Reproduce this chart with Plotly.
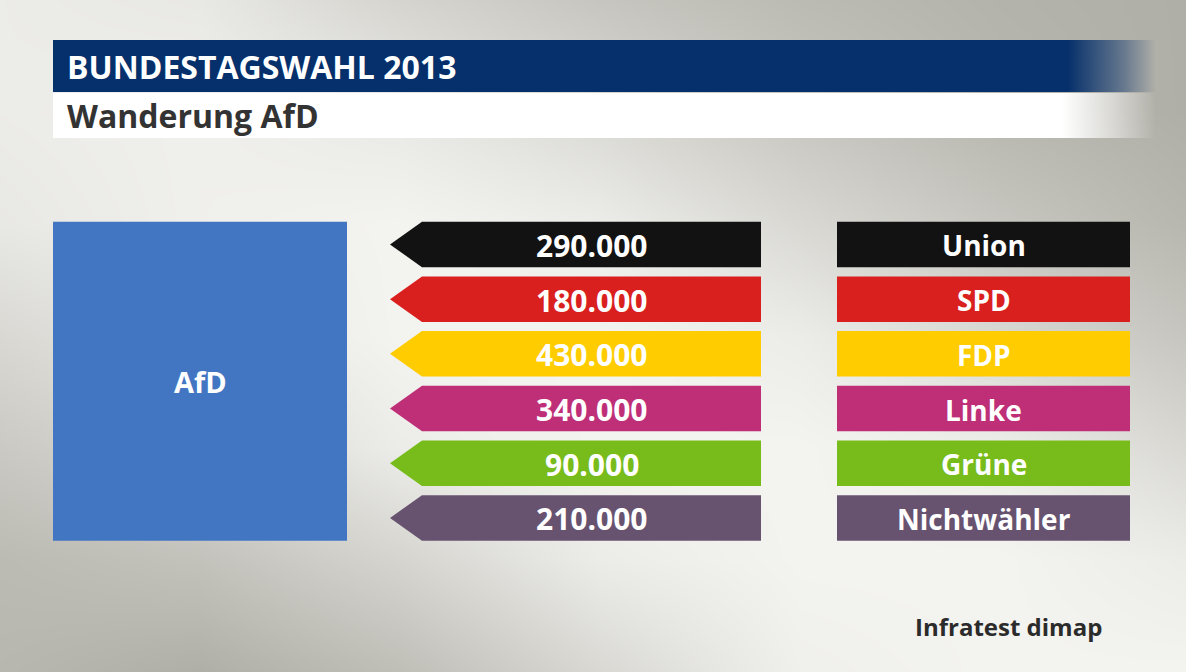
import plotly.graph_objects as go

# Wählerwanderung zur AfD, Bundestagswahl 2013 (infratest dimap)
PARTIES = ["Union", "SPD", "FDP", "Linke", "Grüne", "Nichtwähler"]
VOTERS = [290000, 180000, 430000, 340000, 90000, 210000]
PARTY_COLORS = ["#121212", "#d9201f", "#ffcc00", "#be2f77", "#78bc1c", "#67536f"]
TARGET = "AfD"
TARGET_COLOR = "#4276c2"

TITLE = "BUNDESTAGSWAHL 2013"
SUBTITLE = "Wanderung AfD"
SOURCE = "Infratest dimap"

# background tone (0 = grey, 1 = light)
BG_X = [0, 200, 400, 600, 800, 1000, 1186]
BG_Y = [0, 112, 224, 336, 448, 560, 672]
BG_TONE = [
    [0.85, 0.80, 0.55, 0.35, 0.20, 0.10, 0.05],
    [0.85, 0.90, 0.80, 0.60, 0.35, 0.15, 0.05],
    [0.80, 0.90, 0.95, 0.85, 0.60, 0.35, 0.15],
    [0.60, 0.80, 0.95, 0.95, 0.85, 0.60, 0.35],
    [0.40, 0.60, 0.85, 0.95, 0.95, 0.85, 0.60],
    [0.20, 0.30, 0.55, 0.85, 0.95, 0.95, 0.85],
    [0.15, 0.05, 0.25, 0.60, 0.90, 0.95, 0.95],
]

W, H = 1186, 672
FONT = "Open Sans"

# layout in pixels
ROW_TOP, ROW_STEP, ROW_H = 221.7, 54.7, 45.5
TIP_X, BODY_X0, BODY_X1 = 390, 422, 761
LAB_X0, LAB_X1 = 837, 1130
BOX_X0, BOX_X1 = 53, 347


def de_number(v):
    return f"{v:,}".replace(",", ".")


fig = go.Figure()

fig.add_trace(go.Heatmap(
    x=BG_X, y=BG_Y, z=BG_TONE, zmin=0, zmax=1, zsmooth="best",
    colorscale=[[0, "#acaba3"], [1, "#f7f7f4"]],
    showscale=False, hoverinfo="skip",
))

# header bars with a fade on the right
fig.add_trace(go.Scatter(
    x=[53, 1156, 1156, 53, 53], y=[40, 40, 92, 92, 40],
    mode="lines", line=dict(width=0), fill="toself",
    fillgradient=dict(type="horizontal", colorscale=[
        [0, "rgba(6,48,107,1)"], [0.92, "rgba(6,48,107,1)"],
        [0.97, "rgba(6,48,107,0.45)"], [1, "rgba(6,48,107,0)"]]),
    hoverinfo="skip", showlegend=False,
))
fig.add_trace(go.Scatter(
    x=[53, 1156, 1156, 53, 53], y=[93, 93, 138, 138, 93],
    mode="lines", line=dict(width=0), fill="toself",
    fillgradient=dict(type="horizontal", colorscale=[
        [0, "rgba(255,255,255,1)"], [0.915, "rgba(255,255,255,1)"],
        [0.96, "rgba(255,255,255,0.5)"], [1, "rgba(255,255,255,0)"]]),
    hoverinfo="skip", showlegend=False,
))

# AfD box
bottom = ROW_TOP + (len(PARTIES) - 1) * ROW_STEP + ROW_H
fig.add_trace(go.Scatter(
    x=[BOX_X0, BOX_X1, BOX_X1, BOX_X0, BOX_X0],
    y=[ROW_TOP, ROW_TOP, bottom, bottom, ROW_TOP],
    mode="lines", line=dict(width=0), fill="toself", fillcolor=TARGET_COLOR,
    hoverinfo="skip", showlegend=False,
))

annotations = [
    dict(x=65, y=66, text=TITLE, xanchor="left",
         font=dict(family=FONT, size=32, color="white", weight="bold")),
    dict(x=65, y=115, text=SUBTITLE, xanchor="left",
         font=dict(family=FONT, size=32, color="#333333", weight="bold")),
    dict(x=1104, y=626, text=SOURCE, xanchor="right",
         font=dict(family=FONT, size=24, color="#2b2b2b", weight="bold")),
    dict(x=(BOX_X0 + BOX_X1) / 2, y=(ROW_TOP + bottom) / 2, text=TARGET,
         font=dict(family=FONT, size=29, color="white", weight="bold")),
]

for i, (party, v, col) in enumerate(zip(PARTIES, VOTERS, PARTY_COLORS)):
    top = ROW_TOP + i * ROW_STEP
    bot = top + ROW_H
    mid = (top + bot) / 2
    # arrow pointing left towards the AfD box
    fig.add_trace(go.Scatter(
        x=[BODY_X0, BODY_X1, BODY_X1, BODY_X0, TIP_X, BODY_X0],
        y=[top, top, bot, bot, mid, top],
        mode="lines", line=dict(width=0), fill="toself", fillcolor=col,
        hoverinfo="skip", showlegend=False,
    ))
    fig.add_trace(go.Scatter(
        x=[LAB_X0, LAB_X1, LAB_X1, LAB_X0, LAB_X0],
        y=[top, top, bot, bot, top],
        mode="lines", line=dict(width=0), fill="toself", fillcolor=col,
        hoverinfo="skip", showlegend=False,
    ))
    annotations.append(dict(
        x=(BODY_X0 + BODY_X1) / 2, y=mid + 1, text=de_number(v),
        font=dict(family=FONT, size=30, color="white", weight="bold")))
    annotations.append(dict(
        x=(LAB_X0 + LAB_X1) / 2, y=mid + 1, text=party,
        font=dict(family=FONT, size=28, color="white", weight="bold")))

for a in annotations:
    a.update(xref="x", yref="y", showarrow=False, yanchor="middle")

fig.update_layout(
    width=W, height=H,
    margin=dict(l=0, r=0, t=0, b=0),
    paper_bgcolor="#d8d8d3", plot_bgcolor="#d8d8d3",
    xaxis=dict(range=[0, W], visible=False, fixedrange=True),
    yaxis=dict(range=[H, 0], visible=False, fixedrange=True),
    annotations=annotations,
    showlegend=False,
)

fig.write_html("out.html", config={"displayModeBar": False},
               post_script="document.body.style.margin='0';")
